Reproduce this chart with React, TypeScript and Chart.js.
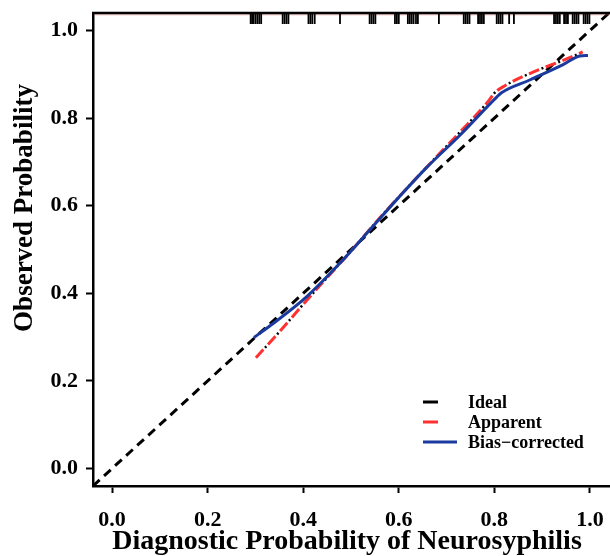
import React, { useEffect, useRef } from 'react';
import { Chart, registerables } from 'chart.js';

Chart.register(...registerables);

const FONT = "'Liberation Serif', 'Times New Roman', serif";

const xTicks = [0, 0.2, 0.4, 0.6, 0.8, 1.0];
const yTicks = [0, 0.2, 0.4, 0.6, 0.8, 1.0];
const axisRange = [-0.04, 1.04];

const idealX = [-0.04, 1.04];
const idealY = [-0.04, 1.04];

const apparentX = [0.301, 0.351, 0.393, 0.441, 0.498, 0.565, 0.63, 0.68, 0.728, 0.787, 0.8, 0.822, 0.881, 0.944, 0.985];
const apparentY = [0.253, 0.313, 0.366, 0.425, 0.494, 0.578, 0.655, 0.713, 0.768, 0.838, 0.857, 0.874, 0.905, 0.932, 0.951];

const biasX = [0.297, 0.337, 0.408, 0.477, 0.546, 0.6, 0.659, 0.728, 0.805, 0.815, 0.874, 0.944, 0.979, 0.996];
const biasY = [0.299, 0.331, 0.393, 0.469, 0.553, 0.619, 0.688, 0.761, 0.848, 0.858, 0.887, 0.922, 0.942, 0.943];

const rugValues = [
  0.290, 0.293, 0.296, 0.300, 0.304, 0.308, 0.312,
  0.357, 0.361, 0.365, 0.369,
  0.411, 0.415, 0.419, 0.424,
  0.477,
  0.539, 0.543, 0.547, 0.551,
  0.592, 0.596, 0.600,
  0.619, 0.623, 0.627, 0.631, 0.636, 0.640,
  0.684,
  0.736, 0.740, 0.744, 0.748,
  0.766, 0.770, 0.774, 0.778,
  0.805, 0.809, 0.813, 0.817,
  0.831, 0.841,
  0.925, 0.929, 0.933, 0.937,
  0.946, 0.950, 0.954,
  0.964, 0.968, 0.972, 0.976,
  0.987, 0.991, 0.995, 0.999,
];

const legendLabels = ['Ideal', 'Apparent', 'Bias\u2212corrected'];
const legendColors = ['#000000', '#ff3030', '#1a3a9e'];
const xTitle = 'Diagnostic Probability of Neurosyphilis';
const yTitle = 'Observed Probability';

const toPts = (xs: number[], ys: number[]) => xs.map((x, i) => ({ x, y: ys[i] }));

const decorPlugin = {
  id: 'decor',
  afterDatasetsDraw(chart: any) {
    const { ctx, chartArea, scales } = chart;
    const xs = scales.x;
    ctx.save();
    ctx.strokeStyle = 'rgba(220,90,90,0.45)';
    ctx.lineWidth = 1;
    ctx.beginPath();
    ctx.moveTo(chartArea.left + 1, chartArea.top + 1.8);
    ctx.lineTo(chartArea.right + 2, chartArea.top + 1.8);
    ctx.stroke();
    ctx.strokeStyle = '#000';
    ctx.lineWidth = 2.5;
    ctx.beginPath();
    ctx.moveTo(chartArea.left - 1, chartArea.top);
    ctx.lineTo(chartArea.right + 2, chartArea.top);
    ctx.stroke();
    ctx.strokeStyle = '#000';
    ctx.lineWidth = 1.8;
    for (const v of rugValues) {
      const px = xs.getPixelForValue(v);
      ctx.beginPath();
      ctx.moveTo(px, chartArea.top);
      ctx.lineTo(px, chartArea.top + 11);
      ctx.stroke();
    }
    const lx = chartArea.left + 330;
    const rows = [chartArea.bottom - 84, chartArea.bottom - 64, chartArea.bottom - 44];
    const lens = [15, 15, 34];
    ctx.lineCap = 'butt';
    ctx.font = `bold 18px ${FONT}`;
    ctx.textBaseline = 'middle';
    ctx.textAlign = 'left';
    legendLabels.forEach((lab, i) => {
      ctx.strokeStyle = legendColors[i];
      ctx.lineWidth = 3;
      ctx.beginPath();
      ctx.moveTo(lx, rows[i]);
      ctx.lineTo(lx + lens[i], rows[i]);
      ctx.stroke();
      ctx.fillStyle = '#000';
      ctx.fillText(lab, lx + 45, rows[i] + 1);
    });
    ctx.restore();
  },
  afterDraw(chart: any) {
    const { ctx } = chart;
    ctx.save();
    ctx.fillStyle = '#000';
    ctx.textAlign = 'center';
    ctx.textBaseline = 'middle';
    ctx.font = `bold 28px ${FONT}`;
    ctx.fillText(xTitle, 347, 542);
    ctx.font = `bold 27px ${FONT}`;
    ctx.translate(25, 208);
    ctx.rotate(-Math.PI / 2);
    ctx.fillText(yTitle, 0, 0);
    ctx.restore();
  },
};

export default function App() {
  const ref = useRef<HTMLCanvasElement>(null);
  useEffect(() => {
    if (!ref.current) return;
    const tickFont = { size: 22, weight: 'bold' as const, family: FONT };
    const chart = new Chart(ref.current, {
      type: 'scatter',
      data: {
        datasets: [
          {
            label: 'Ideal',
            data: toPts(idealX, idealY),
            showLine: true,
            borderColor: '#000',
            borderWidth: 3,
            borderDash: [9, 6],
            pointRadius: 0,
            order: 4,
          },
          {
            label: 'ApparentDots',
            data: toPts(apparentX, apparentY),
            showLine: true,
            borderColor: '#000',
            borderWidth: 2.5,
            borderDash: [2, 16],
            borderDashOffset: 4.5,
            cubicInterpolationMode: 'monotone',
            pointRadius: 0,
            order: 3,
          },
          {
            label: 'Apparent',
            data: toPts(apparentX, apparentY),
            showLine: true,
            borderColor: '#ff3030',
            borderWidth: 3,
            borderDash: [11, 7],
            cubicInterpolationMode: 'monotone',
            pointRadius: 0,
            order: 2,
          },
          {
            label: 'Bias-corrected',
            data: toPts(biasX, biasY),
            showLine: true,
            borderColor: '#1a3a9e',
            borderWidth: 3,
            cubicInterpolationMode: 'monotone',
            pointRadius: 0,
            order: 1,
          },
        ],
      },
      options: {
        animation: false,
        responsive: false,
        layout: { padding: { top: 13, right: 1, left: 0, bottom: 0 } },
        plugins: { legend: { display: false }, tooltip: { enabled: false } },
        scales: {
          x: {
            type: 'linear',
            min: axisRange[0],
            max: axisRange[1],
            afterBuildTicks: (s: any) => {
              s.ticks = xTicks.map((v) => ({ value: v }));
            },
            afterFit: (s: any) => {
              s.height = 70;
              s.paddingLeft = 0;
              s.paddingRight = 0;
            },
            ticks: {
              callback: (v: any) => Number(v).toFixed(1),
              font: tickFont,
              color: '#000',
              padding: 14,
              autoSkip: false,
              maxRotation: 0,
            },
            grid: { drawOnChartArea: false, tickLength: 7, tickWidth: 2, tickColor: '#000' },
            border: { display: true, color: '#000', width: 2.5 },
          },
          y: {
            type: 'linear',
            min: axisRange[0],
            max: axisRange[1],
            afterBuildTicks: (s: any) => {
              s.ticks = yTicks.map((v) => ({ value: v }));
            },
            afterFit: (s: any) => {
              s.width = 93;
              s.paddingTop = 0;
              s.paddingBottom = 0;
            },
            ticks: {
              callback: (v: any) => Number(v).toFixed(1),
              font: tickFont,
              color: '#000',
              padding: 8,
              autoSkip: false,
            },
            grid: { drawOnChartArea: false, tickLength: 7, tickWidth: 2, tickColor: '#000' },
            border: { display: true, color: '#000', width: 2.5 },
          },
        },
      },
      plugins: [decorPlugin],
    });
    return () => chart.destroy();
  }, []);
  return (
    <div style={{ position: 'absolute', left: 0, top: 0 }}>
      <canvas ref={ref} width={610} height={556} style={{ display: 'block' }} />
    </div>
  );
}
